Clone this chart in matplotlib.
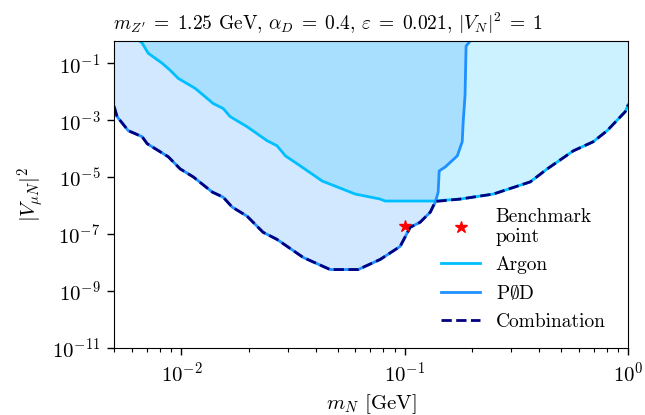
import numpy as np
import matplotlib
matplotlib.use("Agg")
import matplotlib.pyplot as plt
from matplotlib.ticker import NullLocator, LogLocator

plt.rcParams.update({
    "font.family": "serif",
    "font.serif": ["cmr10"],
    "mathtext.fontset": "cm",
    "axes.formatter.use_mathtext": True,
    "axes.unicode_minus": False,
})

# Argon sensitivity contour (m_N [GeV], |V_muN|^2)
argon_m = [0.0060, 0.00667, 0.00710, 0.0082, 0.0089, 0.00967, 0.01153, 0.01387,
           0.01538, 0.01652, 0.01968, 0.0242, 0.0268, 0.0292, 0.034, 0.0427,
           0.060, 0.0776, 0.0817, 0.134, 0.177, 0.249, 0.364, 0.434, 0.568,
           0.697, 0.805, 0.970, 1.0]
argon_v = [1.0, 0.51, 0.225, 0.1, 0.057, 0.0295, 0.0131, 0.00386,
           0.00257, 0.00134, 5.9e-4, 1.9e-4, 1.26e-4, 5.6e-5, 2.5e-5, 7.3e-6,
           2.55e-6, 1.7e-6, 1.45e-6, 1.45e-6, 1.7e-6, 2.55e-6, 6.8e-6, 1.95e-5, 8.4e-5,
           1.75e-4, 4.3e-4, 2.0e-3, 3.5e-3]

# P0D sensitivity contour
pod_m = [0.005, 0.00515, 0.00578, 0.00667, 0.00703, 0.00873, 0.00987, 0.0113,
         0.01374, 0.01538, 0.01687, 0.01968, 0.0232, 0.0268, 0.0351, 0.0463,
         0.0618, 0.0776, 0.0953, 0.1057, 0.117, 0.130, 0.137, 0.141, 0.1425,
         0.1517, 0.1717, 0.1807, 0.1825, 0.186, 0.188, 0.2065]
pod_v = [3.0e-3, 1.34e-3, 4.3e-4, 2.63e-4, 1.49e-4, 5.2e-5, 1.95e-5, 1.02e-5,
         3.0e-6, 1.98e-6, 8.9e-7, 4.25e-7, 1.16e-7, 6.5e-8, 1.51e-8, 5.7e-9,
         5.7e-9, 1.29e-8, 3.7e-8, 1.74e-7, 2.6e-7, 5.9e-7, 1.33e-6, 3.0e-6, 1.66e-5,
         2.28e-5, 5.6e-5, 1.75e-4, 8.9e-4, 7.4e-3, 0.4, 1.0]

# Combined sensitivity (lower envelope of both)
comb_m = [0.005, 0.00515, 0.00578, 0.00667, 0.00703, 0.00873, 0.00987, 0.0113,
          0.01374, 0.01538, 0.01687, 0.01968, 0.0232, 0.0268, 0.0351, 0.0463,
          0.0618, 0.0776, 0.0953, 0.1057, 0.117, 0.130, 0.137, 0.177, 0.249,
          0.364, 0.434, 0.568, 0.697, 0.805, 0.970, 1.0]
comb_v = [3.0e-3, 1.34e-3, 4.3e-4, 2.63e-4, 1.49e-4, 5.2e-5, 1.95e-5, 1.02e-5,
          3.0e-6, 1.98e-6, 8.9e-7, 4.25e-7, 1.16e-7, 6.5e-8, 1.51e-8, 5.7e-9,
          5.7e-9, 1.29e-8, 3.7e-8, 1.74e-7, 2.6e-7, 5.9e-7, 1.4e-6, 1.7e-6, 2.55e-6,
          6.8e-6, 1.95e-5, 8.4e-5, 1.75e-4, 4.3e-4, 2.0e-3, 3.5e-3]

# Benchmark point
bench_m = [0.1]
bench_v = [2.0e-7]

y_ticks = [1e-1, 1e-3, 1e-5, 1e-7, 1e-9, 1e-11]

fig = plt.figure(figsize=(6.45, 4.15), dpi=100)
ax = fig.add_axes([0.177, 0.1614, 0.797, 0.7396])

top = 10.0
ax.fill_between(pod_m, pod_v, top, color="dodgerblue", alpha=0.2, linewidth=0)
ax.fill_between(argon_m, argon_v, top, color="deepskyblue", alpha=0.2, linewidth=0)

ax.plot(argon_m, argon_v, color="deepskyblue", lw=2, label="Argon")
ax.plot(pod_m, pod_v, color="dodgerblue", lw=2, label=r"P$\emptyset$D")
ax.plot(comb_m, comb_v, color="navy", lw=2, ls="--", label="Combination")
ax.plot(bench_m, bench_v, ls="none", marker="*", color="red", ms=9,
        label="Benchmark\npoint")

ax.set_xscale("log")
ax.set_yscale("log")
ax.set_xlim(0.005, 1.0)
ax.set_ylim(1e-11, 0.6)
ax.set_yticks(y_ticks)
ax.yaxis.set_minor_locator(NullLocator())
ax.xaxis.set_major_locator(LogLocator(base=10))
ax.tick_params(which="major", labelsize=15, length=5, width=1, direction="out", pad=5)
ax.tick_params(which="minor", length=3, width=0.8, direction="out")

ax.set_xlabel(r"$m_N$ [GeV]", fontsize=15, labelpad=4)
ax.set_ylabel(r"$|V_{\mu N}|^2$", fontsize=15)
ax.set_title(r"$m_{Z^\prime} \;=\; 1.25$ GeV, $\alpha_D \;=\; 0.4$, "
             r"$\varepsilon \;=\; 0.021$, $|V_N|^2 \;=\; 1$",
             fontsize=14, pad=8, x=0.416)

handles, labels = ax.get_legend_handles_labels()
order = [3, 0, 1, 2]
ax.legend([handles[i] for i in order], [labels[i] for i in order],
          loc="lower right", frameon=False, fontsize=14,
          bbox_to_anchor=(0.99, 0.0), handlelength=2.0)

fig.savefig("out.png", dpi=100)
